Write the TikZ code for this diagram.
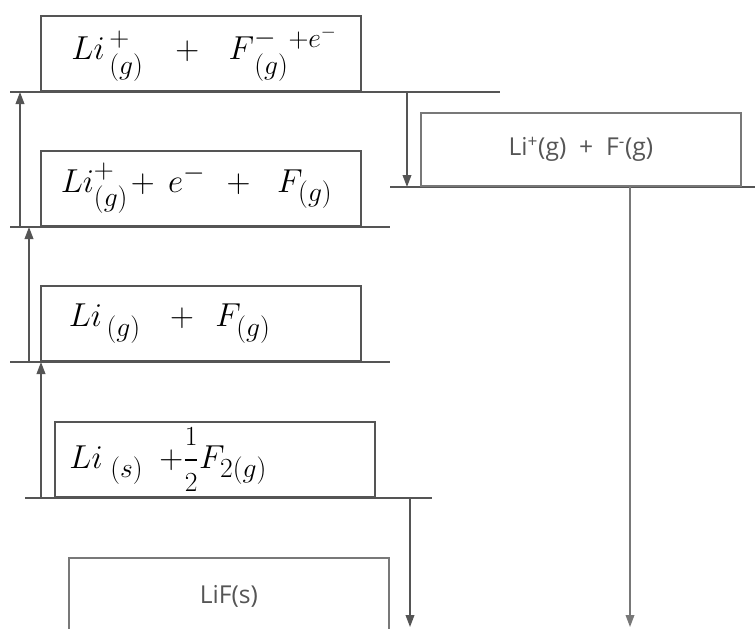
\documentclass[tikz,border=0pt]{standalone}
\usepackage{fontspec}
\usepackage{amsmath}
\usepackage{tikz}
\usetikzlibrary{arrows.meta,positioning,calc}
\newfontfamily\typedfont{Open Sans}
\definecolor{inkgray}{RGB}{85,85,85}
\definecolor{printgray}{RGB}{120,120,120}

\begin{document}
\begin{tikzpicture}[x=0.75pt, y=-0.75pt,
    level/.style={draw=inkgray, line width=1.3pt},
    hbox/.style={draw=inkgray, line width=1.2pt, anchor=south west,
          minimum width=240pt, minimum height=56.5pt, inner sep=0pt,
          text width=222pt, align=left,
          font=\fontsize{30}{33}\selectfont},
    pbox/.style={draw=printgray, line width=1.3pt, anchor=south west,
          minimum width=240pt, minimum height=55pt, inner sep=0pt,
          text=inkgray, font=\typedfont\fontsize{18.5}{22}\selectfont},
    uparr/.style={draw=inkgray, line width=1.2pt,
          -{Triangle[length=9pt, width=6.5pt]}},
    downarr/.style={draw=printgray, line width=1.1pt,
          -{Triangle[length=9pt, width=6.5pt]}}]
  \useasboundingbox (0,0) rectangle (755,628);
  \clip (0,0) rectangle (755,628);

  % level lines
  \draw[level] (10,92)  coordinate (lv1w) -- (500,92)  coordinate (lv1e);
  \draw[level] (390,187) coordinate (lv2w) -- (755,187) coordinate (lv2e);
  \draw[level] (10,227) coordinate (lv3w) -- (390,227) coordinate (lv3e);
  \draw[level] (10,362) coordinate (lv4w) -- (390,362) coordinate (lv4e);
  \draw[level] (25,498) coordinate (lv5w) -- (432,498) coordinate (lv5e);

  % energy boxes
  \node[hbox] (ions) at (40,92)
    {\hspace*{14pt}$Li^{\,+}_{\,(g)}$\hspace{24pt}$+$\hspace{22pt}%
     $F^{-}_{\,(g)}{}^{+e^{-}}$};
  \node[pbox, minimum height=55pt] (gasions) at (420,187)
    {Li\textsuperscript{+}(g)\ \ +\ \ F\textsuperscript{-}(g)};
  \node[hbox] (cation) at (40,227)
    {\hspace*{6pt}$Li^{+}_{(g)}$\hspace{2pt}$+$\hspace{10pt}$e^{-}$%
     \hspace{16pt}$+$\hspace{20pt}$F_{(g)}$};
  \node[hbox] (atoms) at (40,362)
    {\hspace*{12pt}$Li_{\,(g)}$\hspace{22pt}$+$\hspace{16pt}$F_{(g)}$};
  \node[hbox] (elements) at (54,498)
    {\hspace*{2pt}$Li_{\;(s)}$\hspace{12pt}$+$%
     $\dfrac{\scriptstyle 1}{\scriptstyle 2}$$F_{2(g)}$};
  \node[pbox, minimum height=58pt] (lattice) at (68,636) {LiF(s)};

  % cycle arrows
  \coordinate (a1s) at (20,227);  \coordinate (a1e) at (20,92);
  \coordinate (a2s) at (29,362);  \coordinate (a2e) at (29,227);
  \coordinate (a3s) at (41,498);  \coordinate (a3e) at (41,362);
  \coordinate (d1s) at (407,92);  \coordinate (d1e) at (407,187);
  \coordinate (d2s) at (410,498); \coordinate (d2e) at (410,627);
  \coordinate (d3s) at (630,187); \coordinate (d3e) at (630,627);
  \draw[uparr] (a1s) -- (a1e);
  \draw[uparr] (a2s) -- (a2e);
  \draw[uparr] (a3s) -- (a3e);
  \draw[uparr] (d1s) -- (d1e);
  \draw[uparr] (d2s) -- (d2e);
  \draw[downarr] (d3s) -- (d3e);
\end{tikzpicture}
\end{document}
